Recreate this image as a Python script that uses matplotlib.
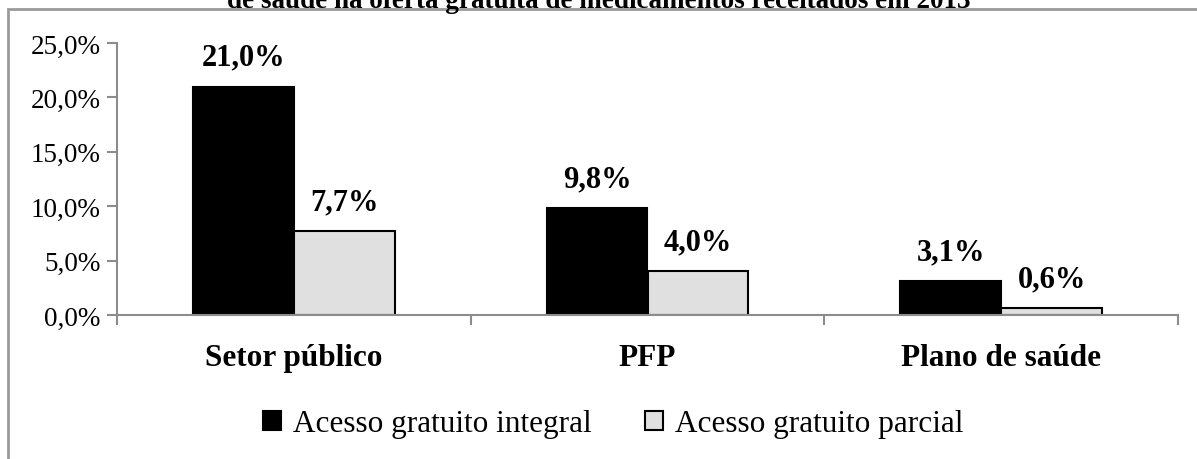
import matplotlib.pyplot as plt
import numpy as np
from matplotlib.patches import Rectangle

plt.rcParams['font.family'] = ['Liberation Serif', 'DejaVu Serif']

categories = ["Setor público", "PFP", "Plano de saúde"]
integral = [21.0, 9.8, 3.1]
parcial = [7.7, 4.0, 0.6]
series_names = ["Acesso gratuito integral", "Acesso gratuito parcial"]
yticks = [0, 5, 10, 15, 20, 25]

def pct(v):
    return ("%.1f%%" % v).replace(".", ",")

fig = plt.figure(figsize=(11.97, 4.6), dpi=100)
ax = fig.add_axes([117/1197, 1 - 316/460, (1178-117)/1197, (316-44)/460])

# outer frame of the chart area (runs past the right and bottom edges)
fig.patches.append(Rectangle((8/1197, -0.05), 1.05, 1.05 - 10/460,
                             transform=fig.transFigure, fill=False,
                             edgecolor="#9a9a9a", linewidth=2))

# title cut by the top edge of the picture
fig.text(0.5, 1 - 8/460, "de saúde na oferta gratuita de medicamentos receitados em 2013",
         ha="center", va="baseline", fontsize=19.5, fontweight="bold")

x = np.arange(len(categories))
w = 0.285
b1 = ax.bar(x - w/2, integral, w, color="black", edgecolor="black", linewidth=1.5,
            label=series_names[0])
b2 = ax.bar(x + w/2, parcial, w, color="#e0e0e0", edgecolor="black", linewidth=1.5,
            label=series_names[1])

for bars, vals in ((b1, integral), (b2, parcial)):
    for r, v in zip(bars, vals):
        ax.annotate(pct(v), (r.get_x() + r.get_width()/2, v), xytext=(0, 11),
                    textcoords="offset points", ha="center", va="bottom",
                    fontsize=22, fontweight="bold")

ax.set_xlim(-0.5, len(categories) - 0.5)
ax.set_ylim(0, 25)
ax.set_yticks(yticks)
ax.set_yticklabels([pct(v) for v in yticks], fontsize=19.5)
ax.set_xticks(np.arange(-0.5, len(categories), 1))
ax.set_xticklabels([])
ax.set_xticks(x, minor=True)
ax.set_xticklabels(categories, minor=True, fontsize=22.5, fontweight="bold")
ax.tick_params(axis="x", which="minor", length=0, pad=20)
ax.tick_params(axis="x", which="major", length=7, width=1.5, color="#8c8c8c", direction="out")
ax.tick_params(axis="y", length=7, width=1.5, color="#8c8c8c", pad=5)

for s in ("top", "right"):
    ax.spines[s].set_visible(False)
for s in ("left", "bottom"):
    ax.spines[s].set_color("#8c8c8c")
    ax.spines[s].set_linewidth(1.5)

fig.legend(handles=[b1, b2], loc="center", bbox_to_anchor=(613/1197, 1 - 425/460),
           ncol=2, frameon=False, fontsize=22.5, handlelength=0.58, handleheight=0.58,
           handletextpad=0.39, columnspacing=1.7)

fig.savefig("out.png", dpi=100)
